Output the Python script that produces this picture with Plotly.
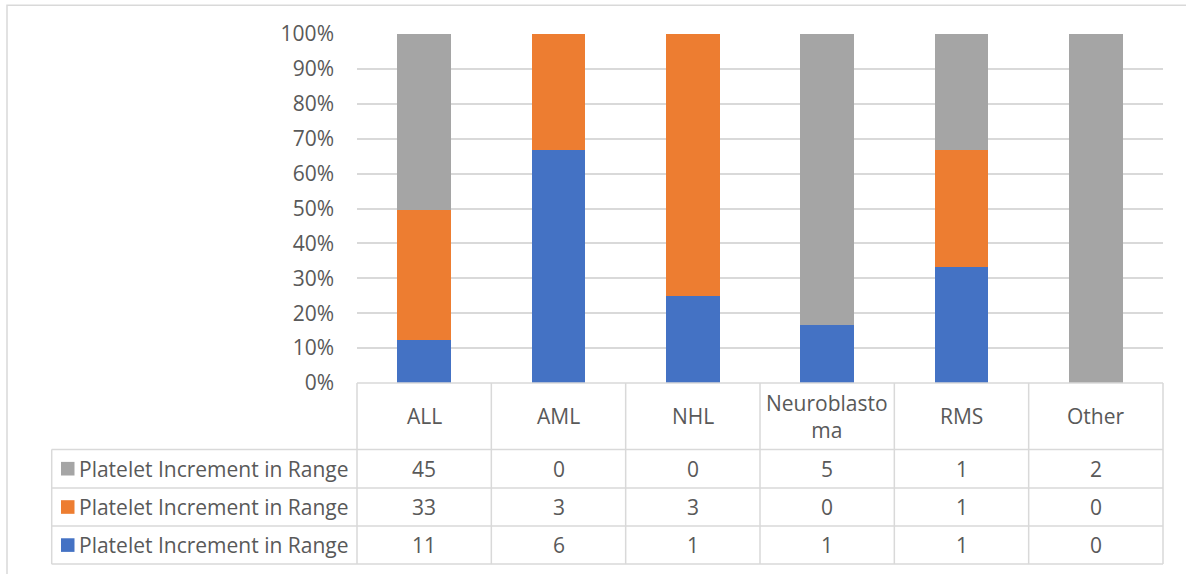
import plotly.graph_objects as go

categories = ["ALL", "AML", "NHL", "Neuroblastoma", "RMS", "Other"]
category_labels = ["ALL", "AML", "NHL", "Neuroblasto<br>ma", "RMS", "Other"]
series_names = ["Platelet Increment in Range", "Platelet Increment in Range", "Platelet Increment in Range"]
blue_vals = [11, 6, 1, 1, 1, 0]
orange_vals = [33, 3, 3, 0, 1, 0]
gray_vals = [45, 0, 0, 5, 1, 2]
colors = ["#4472C4", "#ED7D31", "#A5A5A5"]
tick_vals = [0, 10, 20, 30, 40, 50, 60, 70, 80, 90, 100]
tick_text = [f"{v}%" for v in tick_vals]

W, H = 1186, 574
L, R, T, B = 357, 23, 34.3, 191.3
PW = W - L - R
PH = H - T - B
def px(xp):
    return (xp - L) / PW
def py(yp):
    return (H - B - yp) / PH

FONT = "Open Sans, sans-serif"
FS = 21
TXT = "#595959"
LINE = "#d9d9d9"

fig = go.Figure()
series = [blue_vals, orange_vals, gray_vals]
for i, vals in enumerate(series):
    fig.add_trace(go.Bar(x=categories, y=vals, name=series_names[i],
                         marker=dict(color=colors[i], line=dict(width=0)),
                         width=0.4))

shapes = []
annotations = []
# chart border
shapes.append(dict(type="rect", xref="paper", yref="paper",
                   x0=px(7), x1=px(1200), y0=py(590), y1=py(5.5),
                   line=dict(color=LINE, width=1.5), layer="below"))

row_lines = [382.7, 449, 487.5, 525.5, 563.5]
ncat = len(categories)
shapes.append(dict(type="line", xref="paper", yref="paper", x0=0, x1=1,
                   y0=py(row_lines[0]), y1=py(row_lines[0]), line=dict(color=LINE, width=1.5)))
for yl in row_lines[1:]:
    shapes.append(dict(type="line", xref="paper", yref="paper", x0=px(51.7), x1=1,
                       y0=py(yl), y1=py(yl), line=dict(color=LINE, width=1.5)))
for k in range(ncat + 1):
    xv = k / ncat
    shapes.append(dict(type="line", xref="paper", yref="paper", x0=xv, x1=xv,
                       y0=py(row_lines[0]), y1=py(row_lines[-1]), line=dict(color=LINE, width=1.5)))
shapes.append(dict(type="line", xref="paper", yref="paper", x0=px(51.7), x1=px(51.7),
                   y0=py(row_lines[1]), y1=py(row_lines[-1]), line=dict(color=LINE, width=1.5)))

hc = (row_lines[0] + row_lines[1]) / 2
for k, lab in enumerate(category_labels):
    annotations.append(dict(xref="paper", yref="paper", x=(k + 0.5) / ncat, y=py(hc),
                            text=lab, showarrow=False, xanchor="center", yanchor="middle",
                            font=dict(family=FONT, size=FS, color=TXT)))

rows = [(gray_vals, colors[2], series_names[2]),
        (orange_vals, colors[1], series_names[1]),
        (blue_vals, colors[0], series_names[0])]
for r, (vals, col, name) in enumerate(rows):
    yc = (row_lines[r + 1] + row_lines[r + 2]) / 2
    shapes.append(dict(type="rect", xref="paper", yref="paper",
                       x0=px(61), x1=px(74.5), y0=py(yc + 6.8), y1=py(yc - 6.8),
                       fillcolor=col, line=dict(width=0)))
    annotations.append(dict(xref="paper", yref="paper", x=px(77), y=py(yc),
                            text=name, showarrow=False, xanchor="left", yanchor="middle",
                            font=dict(family=FONT, size=FS, color=TXT)))
    for k, v in enumerate(vals):
        annotations.append(dict(xref="paper", yref="paper", x=(k + 0.5) / ncat, y=py(yc),
                                text=str(v), showarrow=False, xanchor="center", yanchor="middle",
                                font=dict(family=FONT, size=FS, color=TXT)))

fig.update_layout(
    barmode="stack", barnorm="percent",
    width=W, height=H,
    margin=dict(l=L, r=R, t=T, b=B, pad=0),
    paper_bgcolor="white", plot_bgcolor="white",
    showlegend=False,
    shapes=shapes, annotations=annotations,
    font=dict(family=FONT, color=TXT, size=FS),
)
fig.update_xaxes(showticklabels=False, showgrid=False, showline=False, zeroline=False,
                 range=[-0.5, 5.5], fixedrange=True)
fig.update_yaxes(range=[0, 100], tickmode="array", tickvals=tick_vals, ticktext=tick_text,
                 showgrid=True, gridcolor=LINE, gridwidth=1.5, zeroline=False,
                 showline=False, ticks="", ticklabelstandoff=22,
                 tickfont=dict(family=FONT, size=FS, color=TXT))
fig.write_html("out.html")
